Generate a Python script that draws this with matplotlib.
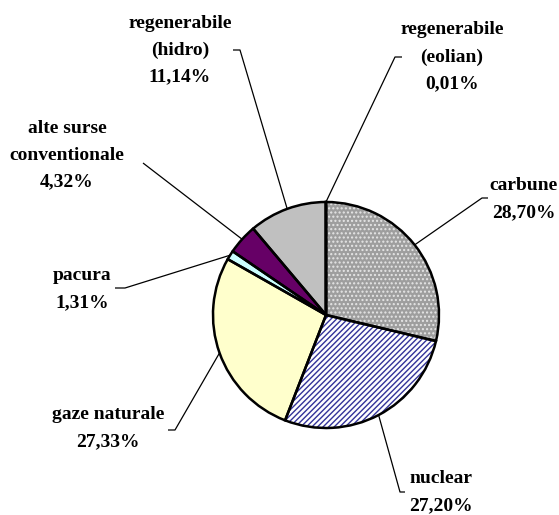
import matplotlib
matplotlib.use("Agg")
import matplotlib.pyplot as plt
import numpy as np

labels = ["carbune", "nuclear", "gaze naturale", "pacura",
          "alte surse\nconventionale", "regenerabile\n(hidro)", "regenerabile\n(eolian)"]
values = [28.70, 27.20, 27.33, 1.31, 4.32, 11.14, 0.01]
value_text = ["28,70%", "27,20%", "27,33%", "1,31%", "4,32%", "11,14%", "0,01%"]

face_colors = ["#9e9e9e", "#ffffff", "#ffffcc", "#ccffff", "#660066", "#c0c0c0", "#c0c0c0"]
hatches = ["....", "//////", None, None, None, None, None]
hatch_colors = ["#e6e6e6", "#333399", None, None, None, None, None]

# label layout in pixel coords (x, y from top): text center, elbow, tick end
W, H = 559, 515
text_pos = [(524, 199), (441, 492), (108, 428), (82, 289), (67, 155), (180, 50), (452, 57)]
elbows = [(482, 198), (400, 492), (175, 430), (125, 288), (143, 163), (240, 50), (395, 57)]
tick_ends = [(488, 198), (405, 492), (168, 430), (115, 288), (143, 163), (233, 50), (402, 57)]

plt.rcParams['hatch.linewidth'] = 1.0

fig = plt.figure(figsize=(W / 100, H / 100), dpi=100)
ax = fig.add_axes([0, 0, 1, 1])

center = (326, H - 315)
radius = 113

wedges, _ = ax.pie(values, startangle=90, counterclock=False, colors=face_colors,
                   center=center, radius=radius,
                   wedgeprops=dict(linewidth=0, edgecolor="none"))
# hatch overlay
hw, _ = ax.pie(values, startangle=90, counterclock=False, center=center, radius=radius,
               colors=["none"] * len(values),
               wedgeprops=dict(linewidth=0))
for w, h, hc in zip(hw, hatches, hatch_colors):
    if h:
        w.set_hatch(h)
        w.set_edgecolor(hc)
        w.set_linewidth(0)
    else:
        w.set_visible(False)
# outlines
ow, _ = ax.pie(values, startangle=90, counterclock=False, center=center, radius=radius,
               colors=["none"] * len(values),
               wedgeprops=dict(linewidth=1.8, edgecolor="black", fill=False))

for w, lab, vt, tp, el, te in zip(wedges, labels, value_text, text_pos, elbows, tick_ends):
    mid = np.deg2rad((w.theta1 + w.theta2) / 2)
    px = center[0] + radius * np.cos(mid)
    py = center[1] + radius * np.sin(mid)
    ax.plot([px, el[0], te[0]], [py, H - el[1], H - te[1]], color="black", lw=0.9,
            solid_capstyle="butt")
    ax.text(tp[0], H - tp[1], lab + "\n" + vt, ha="center", va="center",
            fontsize=14, fontweight="bold", family="Liberation Serif",
            linespacing=1.75)

ax.set_xlim(0, W)
ax.set_ylim(0, H)
ax.set_aspect("equal")
ax.axis("off")
fig.savefig("out.png", dpi=100)
